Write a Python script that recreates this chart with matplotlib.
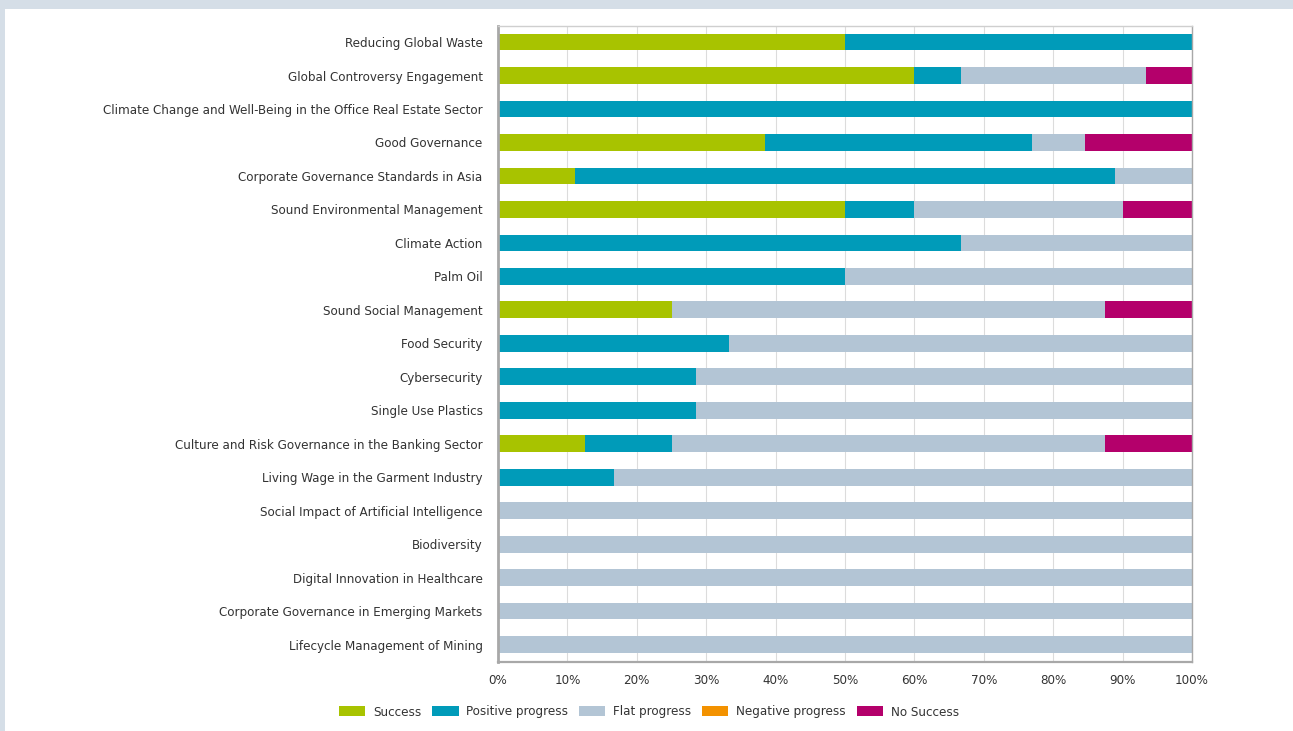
import numpy as np
import matplotlib.pyplot as plt
from matplotlib.patches import Rectangle
from matplotlib.ticker import PercentFormatter
from matplotlib import font_manager

topics = [
    "Reducing Global Waste",
    "Global Controversy Engagement",
    "Climate Change and Well-Being in the Office Real Estate Sector",
    "Good Governance",
    "Corporate Governance Standards in Asia",
    "Sound Environmental Management",
    "Climate Action",
    "Palm Oil",
    "Sound Social Management",
    "Food Security",
    "Cybersecurity",
    "Single Use Plastics",
    "Culture and Risk Governance in the Banking Sector",
    "Living Wage in the Garment Industry",
    "Social Impact of Artificial Intelligence",
    "Biodiversity",
    "Digital Innovation in Healthcare",
    "Corporate Governance in Emerging Markets",
    "Lifecycle Management of Mining",
]

# shares in %
success = [50.0, 60.0, 0, 38.5, 11.1, 50.0, 0, 0, 25.0, 0, 0, 0, 12.5, 0, 0, 0, 0, 0, 0]
positive = [50.0, 6.7, 100.0, 38.5, 77.8, 10.0, 66.7, 50.0, 0, 33.3, 28.6, 28.6, 12.5, 16.7, 0, 0, 0, 0, 0]
flat = [0, 26.6, 0, 7.6, 11.1, 30.0, 33.3, 50.0, 62.5, 66.7, 71.4, 71.4, 62.5, 83.3, 100, 100, 100, 100, 100]
negative = [0] * 19
no_success = [0, 6.7, 0, 15.4, 0, 10.0, 0, 0, 12.5, 0, 0, 0, 12.5, 0, 0, 0, 0, 0, 0]

series = ["Success", "Positive progress", "Flat progress", "Negative progress", "No Success"]
colors = ["#a8c300", "#009bb9", "#b3c5d5", "#f39200", "#b4006b"]

# a narrow face if one exists, else squeeze DejaVu
names = {f.name for f in font_manager.fontManager.ttflist}
if "Liberation Sans Narrow" in names:
    plt.rcParams['font.family'] = ['Liberation Sans Narrow', 'DejaVu Sans']
else:
    plt.rcParams['font.family'] = ['DejaVu Sans']
    plt.rcParams['font.stretch'] = 'condensed'

fig = plt.figure(figsize=(12.93, 7.31), dpi=100)
fig.patch.set_facecolor("#d5dee7")
bg = Rectangle((5 / 1293, 0), 1 - 5 / 1293, 1 - 9 / 731, transform=fig.transFigure,
               facecolor="white", edgecolor="none", zorder=-10)
fig.add_artist(bg)

ax = fig.add_axes([498 / 1293, 1 - 662 / 731, (1192 - 498) / 1293, (662 - 26) / 731])
ax.set_zorder(1)
y = np.arange(len(topics))
left = np.zeros(len(topics))
for name, vals, c in zip(series, [success, positive, flat, negative, no_success], colors):
    vals = np.array(vals, dtype=float)
    ax.barh(y, vals, left=left, height=0.5, color=c, label=name, zorder=2)
    left += vals

ax.set_xlim(0, 100)
ax.set_ylim(len(topics) - 0.5 + 0.02, -0.48)
ax.set_yticks(y)
ax.set_yticklabels(topics, fontsize=9.5, color="#333333")
ax.set_xticks(np.arange(0, 101, 10))
ax.xaxis.set_major_formatter(PercentFormatter(decimals=0))
ax.tick_params(axis="x", labelsize=9.5, labelcolor="#333333", length=0, pad=9)
ax.tick_params(axis="y", length=0, pad=11)
ax.grid(axis="x", color="#dcdcdc", linewidth=0.8, zorder=0)
ax.set_axisbelow(True)
for side, sp in ax.spines.items():
    sp.set_color("#a8a8a8")
    sp.set_linewidth(1.0)
ax.spines["left"].set_linewidth(2.0)
ax.spines["bottom"].set_linewidth(1.6)
ax.spines["top"].set_color("#cfcfcf")

leg = fig.legend(loc="center", bbox_to_anchor=(649 / 1293, 1 - 712 / 731), ncol=5, frameon=False,
                 fontsize=9.5, handlelength=2.0, handleheight=0.8, handletextpad=0.6, columnspacing=0.8,
                 labelcolor="#333333")
leg.set_zorder(2)

plt.savefig("out.png", dpi=100, facecolor=fig.get_facecolor())
plt.close()
